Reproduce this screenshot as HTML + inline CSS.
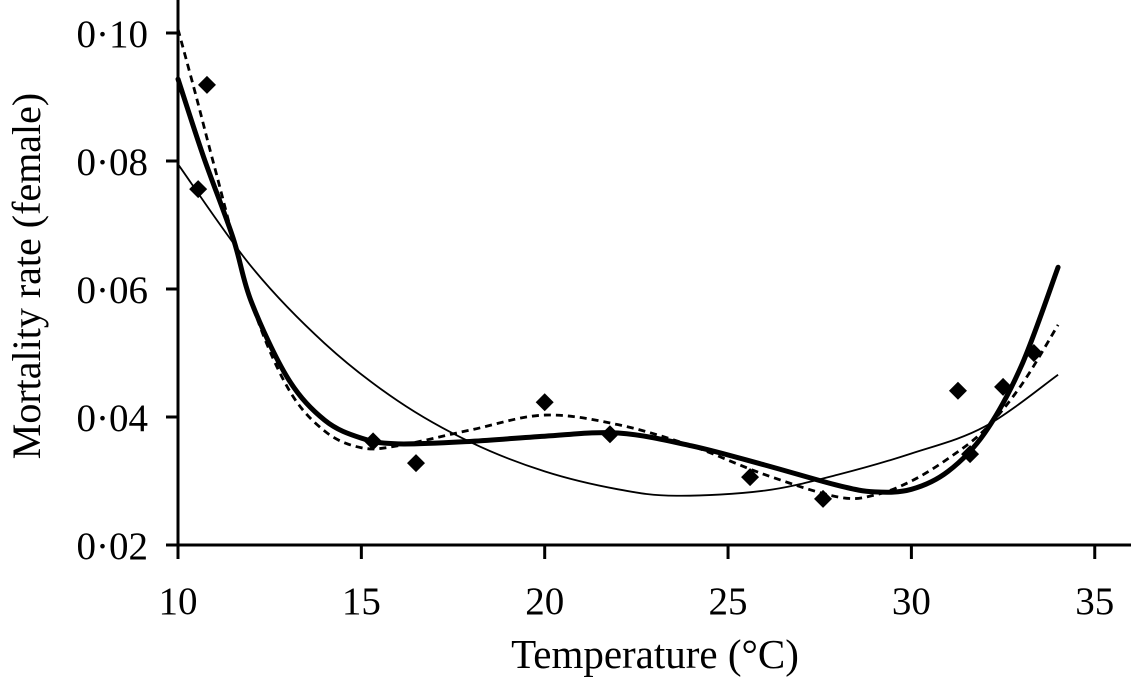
<!DOCTYPE html>
<html><head><meta charset="utf-8"><style>
html,body{margin:0;padding:0;background:#fff;width:1131px;height:678px;overflow:hidden}
text{font-family:"Liberation Serif",serif;fill:#000}
</style></head><body>
<svg id="chart" width="1131" height="678" viewBox="0 0 1131 678" xmlns="http://www.w3.org/2000/svg"></svg>
<script>
const xTicks=[10,15,20,25,30,35];
const yTicks=[0.02,0.04,0.06,0.08,0.10];
const yTickLabels=["0·02","0·04","0·06","0·08","0·10"];
const obsX=[10.55,10.79,15.32,16.49,20.0,21.78,25.6,27.59,31.27,31.6,32.5,33.34];
const obsY=[0.0756,0.0919,0.0362,0.0328,0.0423,0.0373,0.0306,0.0272,0.0441,0.0342,0.0447,0.0500];
const thinX=[10,12,14,16,18,20,22,23.6,26,28,30,32,34];
const thinY=[0.0795,0.0635,0.0515,0.0425,0.036,0.0315,0.0287,0.0277,0.0285,0.031,0.0343,0.0385,0.0466];
const thickX=[10,10.7,11.5,12,13,14,15,16,18,20,22,24,26,28,29,30,31,32,33,34];
const thickY=[0.0928,0.0806,0.068,0.058,0.046,0.0395,0.0367,0.0358,0.0362,0.037,0.0375,0.0355,0.0325,0.0293,0.0283,0.0287,0.0315,0.0375,0.048,0.0634];
const dashX=[10,10.5,11,12,13,14,15,16,18,20,22,24,26,28,29,30,31,32,33,34];
const dashY=[0.1006,0.09,0.079,0.058,0.0445,0.0378,0.0352,0.0355,0.038,0.0403,0.0388,0.0355,0.031,0.0275,0.0278,0.030,0.0335,0.038,0.045,0.0544];

const NS="http://www.w3.org/2000/svg";
const svg=document.getElementById('chart');
const sx=v=>178+(v-10)*36.67;
const sy=v=>545-(v-0.02)*6400;
function mk(t,a){const e=document.createElementNS(NS,t);for(const k in a)e.setAttribute(k,a[k]);svg.appendChild(e);return e;}
function smooth(xs,ys){
  const p=xs.map((x,i)=>[sx(x),sy(ys[i])]);
  let d=`M${p[0][0]},${p[0][1]}`;
  for(let i=0;i<p.length-1;i++){
    const p0=p[i-1]||p[i],p1=p[i],p2=p[i+1],p3=p[i+2]||p2;
    const c1=[p1[0]+(p2[0]-p0[0])/6,p1[1]+(p2[1]-p0[1])/6];
    const c2=[p2[0]-(p3[0]-p1[0])/6,p2[1]-(p3[1]-p1[1])/6];
    d+=`C${c1[0]},${c1[1]} ${c2[0]},${c2[1]} ${p2[0]},${p2[1]}`;
  }
  return d;
}
let e;
e=mk('line',{x1:178,y1:0,x2:178,y2:545,stroke:'#000','stroke-width':3});

e=mk('line',{x1:166,y1:545,x2:1131,y2:545,stroke:'#000','stroke-width':3});

xTicks.forEach(v=>{
  e=mk('line',{x1:sx(v),y1:545,x2:sx(v),y2:559,stroke:'#000','stroke-width':3});
  
  e=mk('text',{x:sx(v),y:614,'font-size':39,'text-anchor':'middle'});e.textContent=v;
  
});
yTicks.forEach((v,i)=>{
  e=mk('line',{x1:166,y1:sy(v),x2:178,y2:sy(v),stroke:'#000','stroke-width':3});
  
  e=mk('text',{x:148,y:sy(v)+14,'font-size':39,'text-anchor':'end'});e.textContent=yTickLabels[i];
  
});
e=mk('text',{x:655,y:668,'font-size':41,'text-anchor':'middle'});e.textContent='Temperature (°C)';

e=mk('text',{x:0,y:0,'font-size':40,'text-anchor':'middle',transform:'translate(40,276) rotate(-90)'});e.textContent='Mortality rate (female)';

e=mk('path',{d:smooth(thinX,thinY),fill:'none',stroke:'#000','stroke-width':1.8});

e=mk('path',{d:smooth(dashX,dashY),fill:'none',stroke:'#000','stroke-width':2.8,'stroke-dasharray':'7,5'});

e=mk('path',{d:smooth(thickX,thickY),fill:'none',stroke:'#000','stroke-width':5,'stroke-linecap':'round'});

obsX.forEach((x,i)=>{
  const cx=sx(x),cy=sy(obsY[i]),r=9;
  e=mk('polygon',{points:`${cx},${cy-r} ${cx+r},${cy} ${cx},${cy+r} ${cx-r},${cy}`,fill:'#000'});
  
});
</script>
</body></html>
